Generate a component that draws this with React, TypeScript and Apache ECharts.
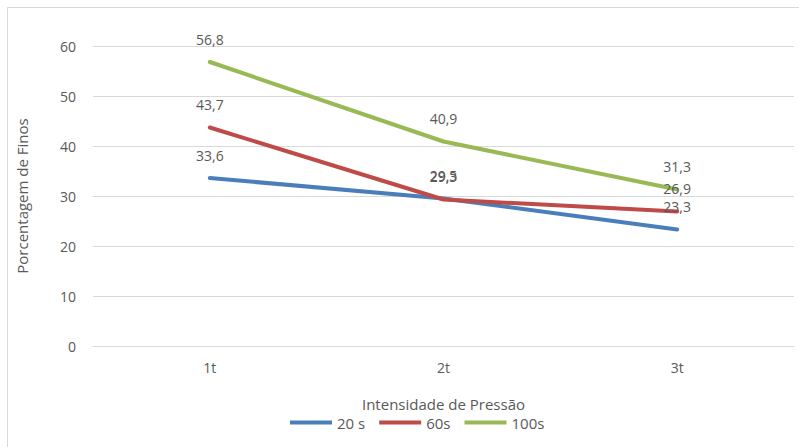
import React, { useEffect, useRef } from "react";
import * as echarts from "echarts";

const categories = ["1t", "2t", "3t"];
const series20s = [33.6, 29.5, 23.3];
const series60s = [43.7, 29.3, 26.9];
const series100s = [56.8, 40.9, 31.3];
const seriesNames = ["20 s", "60s", "100s"];
const colors = ["#4a7ebb", "#be4b48", "#98b954"];

const FONT = "'Open Sans', 'Noto Sans', sans-serif";
const TEXT = "#595959";

export default function App() {
  const ref = useRef<HTMLDivElement>(null);
  useEffect(() => {
    if (!ref.current) return;
    const chart = echarts.init(ref.current, undefined, { renderer: "svg" });
    const fmt = (p: any) => String(p.value).replace(".", ",");
    const mk = (name: string, data: number[], color: string) => ({
      name,
      type: "line",
      data,
      showSymbol: true,
      symbol: "circle",
      symbolSize: 0,
      lineStyle: { width: 4, color, cap: "round" },
      itemStyle: { color },
      label: {
        show: true,
        position: "top",
        distance: 16,
        formatter: fmt,
        color: TEXT,
        fontSize: 14,
        fontFamily: FONT,
      },
    });
    chart.setOption({
      animation: false,
      backgroundColor: "#ffffff",
      graphic: [
        {
          type: "rect",
          shape: { x: 7.5, y: 7.5, width: 820, height: 460 },
          style: { fill: "none", stroke: "#d9d9d9", lineWidth: 1 },
          silent: true,
        },
      ],
      grid: { left: 93, right: 5, top: 46, bottom: 101 },
      legend: {
        bottom: 12,
        left: 285,
        itemWidth: 42,
        itemHeight: 4,
        itemGap: 14,
        icon: "rect",
        textStyle: { color: TEXT, fontSize: 15, fontFamily: FONT },
        data: seriesNames,
      },
      xAxis: {
        type: "category",
        data: categories,
        boundaryGap: true,
        name: "Intensidade de Pressão",
        nameLocation: "middle",
        nameGap: 50,
        nameTextStyle: { color: TEXT, fontSize: 15, fontFamily: FONT },
        axisLine: { show: true, lineStyle: { color: "#d9d9d9" } },
        axisTick: { show: false },
        axisLabel: { color: TEXT, fontSize: 14, fontFamily: FONT, margin: 14 },
      },
      yAxis: {
        type: "value",
        min: 0,
        max: 60,
        interval: 10,
        name: "Porcentagem de Finos",
        nameLocation: "middle",
        nameGap: 64,
        nameTextStyle: { color: TEXT, fontSize: 15, fontFamily: FONT },
        axisLine: { show: false },
        axisTick: { show: false },
        axisLabel: { color: TEXT, fontSize: 14, fontFamily: FONT, margin: 17 },
        splitLine: { lineStyle: { color: "#d9d9d9", width: 1 } },
      },
      series: [
        mk(seriesNames[0], series20s, colors[0]),
        mk(seriesNames[1], series60s, colors[1]),
        mk(seriesNames[2], series100s, colors[2]),
      ],
    });
    return () => chart.dispose();
  }, []);
  return (
    <div
      ref={ref}
      style={{ position: "fixed", left: 0, top: 0, width: 799, height: 447 }}
    />
  );
}
